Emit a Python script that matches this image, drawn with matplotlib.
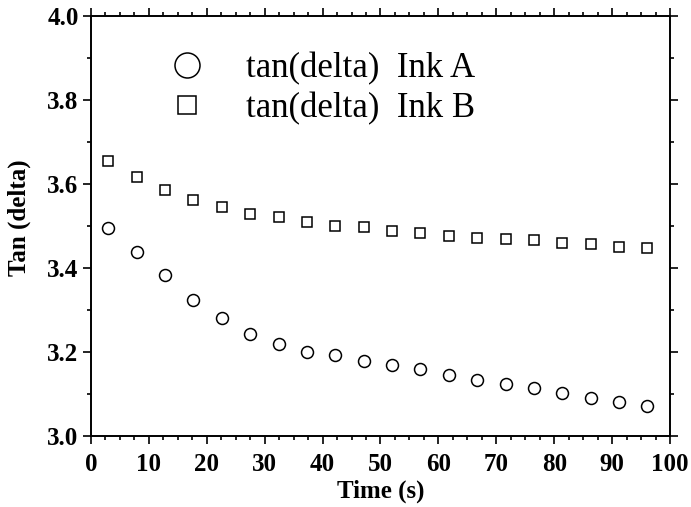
import matplotlib
matplotlib.use("Agg")
import matplotlib.pyplot as plt
from matplotlib.lines import Line2D
from matplotlib.ticker import MultipleLocator

# Sampling times (s)
time_s = [3.0, 7.9, 12.8, 17.7, 22.6, 27.5, 32.4, 37.3, 42.2, 47.1,
          52.0, 56.9, 61.8, 66.7, 71.6, 76.5, 81.4, 86.3, 91.2, 96.1]

# Loss tangent of the two inks
tan_delta_ink_a = [3.495, 3.437, 3.384, 3.323, 3.280, 3.244, 3.219, 3.200, 3.193, 3.179,
                   3.169, 3.160, 3.145, 3.133, 3.124, 3.114, 3.102, 3.090, 3.081, 3.071]
tan_delta_ink_b = [3.655, 3.617, 3.586, 3.562, 3.545, 3.529, 3.522, 3.509, 3.501, 3.497,
                   3.489, 3.483, 3.476, 3.472, 3.468, 3.467, 3.460, 3.457, 3.451, 3.447]

series_labels = ["tan(delta)  Ink A", "tan(delta)  Ink B"]

plt.rcParams["font.family"] = ["Liberation Serif", "DejaVu Serif"]

fig = plt.figure(figsize=(6.91, 5.07), dpi=100)
ax = fig.add_axes([0.1317, 0.140, 0.8379, 0.8284])

ax.plot(time_s, tan_delta_ink_a, linestyle="none", marker="o", markersize=8.6,
        markerfacecolor="white", markeredgecolor="black", markeredgewidth=1.1)
ax.plot(time_s, tan_delta_ink_b, linestyle="none", marker="s", markersize=7.2,
        markerfacecolor="white", markeredgecolor="black", markeredgewidth=1.1)

ax.set_xlim(0, 100)
ax.set_ylim(3.0, 4.0)
ax.xaxis.set_major_locator(MultipleLocator(10))
ax.xaxis.set_minor_locator(MultipleLocator(2.5))
ax.yaxis.set_major_locator(MultipleLocator(0.2))
ax.yaxis.set_minor_locator(MultipleLocator(0.1))
ax.yaxis.set_major_formatter(plt.FormatStrFormatter("%.1f"))

for side in ax.spines.values():
    side.set_linewidth(1.4)

ax.tick_params(which="both", direction="out", top=True, right=True, width=1.2)
ax.tick_params(which="major", length=6, labelsize=18)
ax.tick_params(axis="y", which="major", pad=3)
ax.tick_params(axis="x", which="major", pad=6)
ax.tick_params(which="minor", length=3)
for lbl in ax.get_xticklabels() + ax.get_yticklabels():
    lbl.set_fontweight("bold")

ax.set_xlabel("Time (s)", fontsize=18, fontweight="bold", labelpad=3)
ax.set_ylabel("Tan (delta)", fontsize=18, fontweight="bold")
ax.yaxis.set_label_coords(-0.104, 0.52)

handles = [
    Line2D([], [], linestyle="none", marker="o", markersize=18,
           markerfacecolor="white", markeredgecolor="black", markeredgewidth=1.1),
    Line2D([], [], linestyle="none", marker="s", markersize=12.5,
           markerfacecolor="white", markeredgecolor="black", markeredgewidth=1.1),
]
ax.legend(handles, series_labels, loc="upper left", bbox_to_anchor=(0.135, 0.915),
          frameon=False, fontsize=25, handlelength=1.0, handletextpad=1.2,
          labelspacing=0.2, borderpad=0, borderaxespad=0)

fig.savefig("out.png", dpi=100)
